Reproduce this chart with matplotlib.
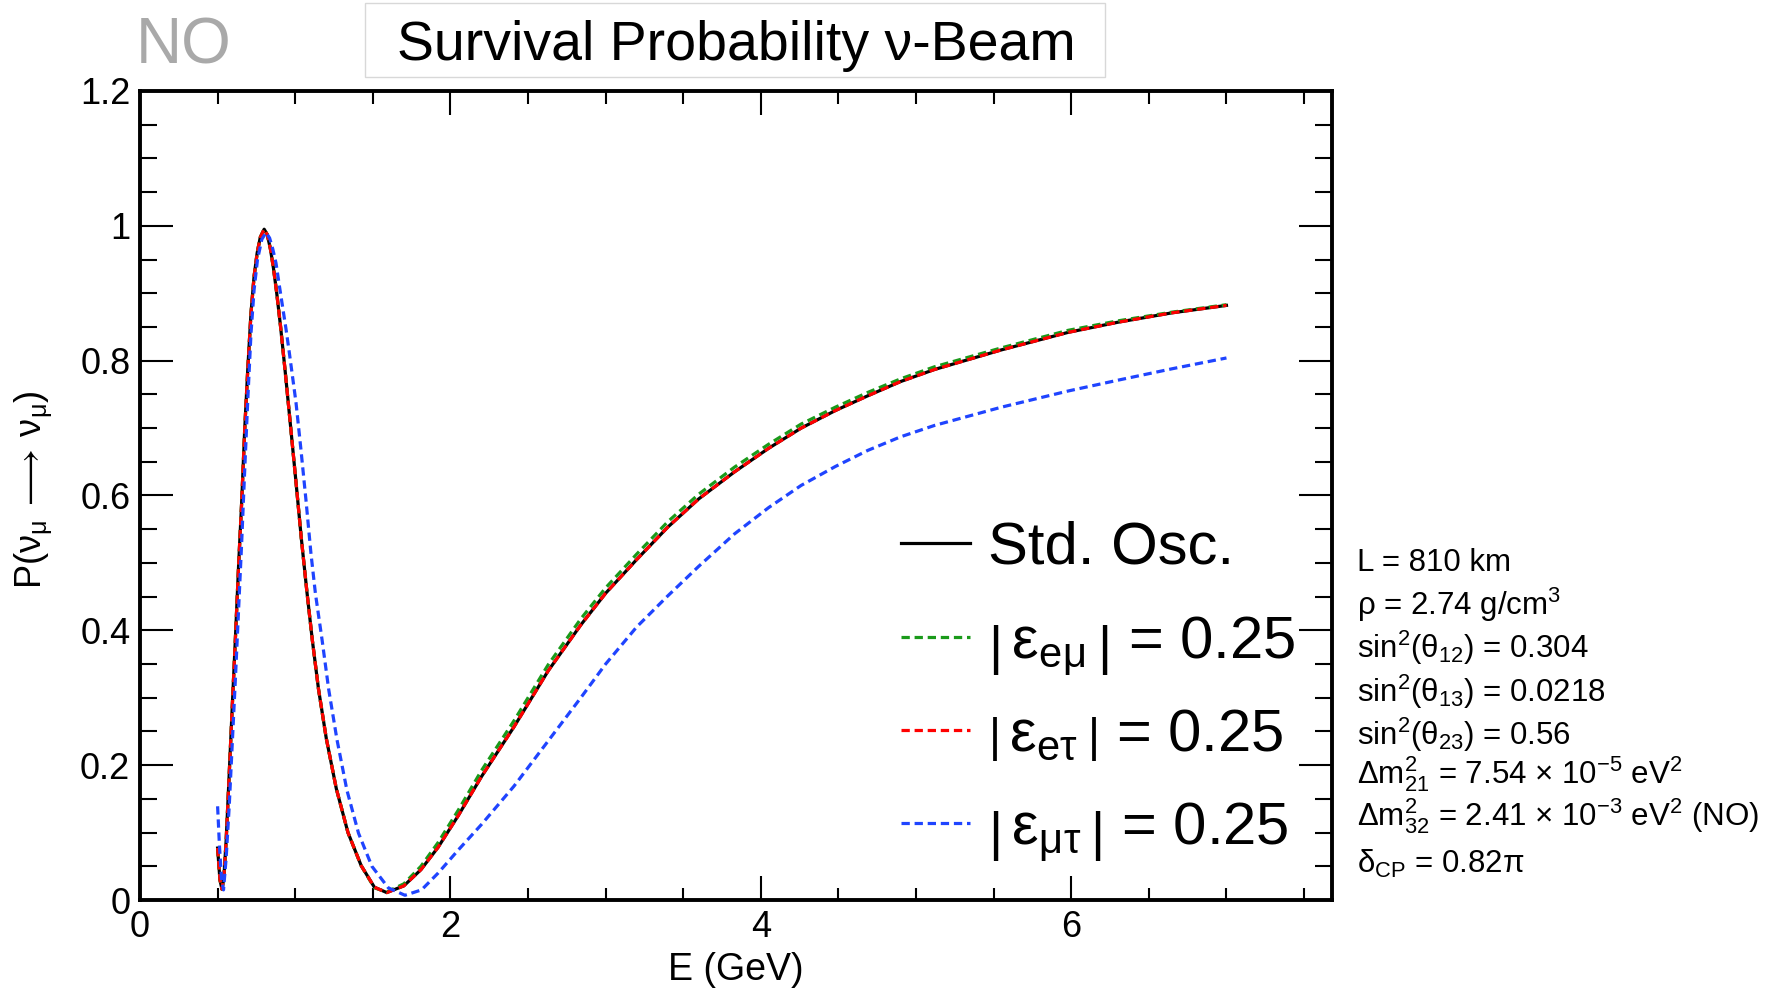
import matplotlib
matplotlib.use('Agg')
import matplotlib.pyplot as plt
from matplotlib.lines import Line2D
from matplotlib.patches import Rectangle
from matplotlib.ticker import MultipleLocator, FuncFormatter

plt.rcParams['font.family'] = ['Liberation Sans', 'DejaVu Sans']
plt.rcParams['mathtext.fontset'] = 'custom'
plt.rcParams['mathtext.rm'] = 'Liberation Sans'
plt.rcParams['mathtext.default'] = 'regular'

# energies (GeV) for the std. osc. / e-mu / e-tau curves
E_std = [0.500, 0.515, 0.528, 0.540, 0.555, 0.575, 0.595, 0.615, 0.635, 0.655,
         0.675, 0.695, 0.715, 0.735, 0.755, 0.775, 0.800, 0.820, 0.840, 0.860,
         0.880, 0.905, 0.935, 0.970, 1.005, 1.040, 1.075, 1.110, 1.150, 1.200,
         1.265, 1.340, 1.425, 1.510, 1.590, 1.700, 1.810, 1.920, 2.050, 2.200,
         2.410, 2.630, 2.840, 3.000, 3.200, 3.400, 3.600, 3.830, 4.050, 4.260,
         4.480, 4.690, 4.900, 5.120, 5.550, 5.980, 6.300, 6.650, 7.000]

P_std = [0.077, 0.030, 0.016, 0.032, 0.088, 0.188, 0.290, 0.390, 0.495, 0.590,
         0.700, 0.790, 0.870, 0.925, 0.960, 0.983, 0.995, 0.987, 0.966, 0.937,
         0.902, 0.852, 0.785, 0.703, 0.620, 0.535, 0.458, 0.386, 0.313, 0.240,
         0.165, 0.100, 0.051, 0.019, 0.011, 0.021, 0.045, 0.078, 0.125, 0.183,
         0.257, 0.340, 0.408, 0.455, 0.505, 0.553, 0.595, 0.635, 0.670, 0.700,
         0.726, 0.748, 0.769, 0.787, 0.816, 0.842, 0.857, 0.871, 0.882]

P_em = [0.077, 0.030, 0.016, 0.032, 0.088, 0.188, 0.290, 0.390, 0.495, 0.590,
        0.700, 0.790, 0.870, 0.925, 0.960, 0.983, 0.995, 0.987, 0.966, 0.937,
        0.902, 0.852, 0.785, 0.703, 0.620, 0.535, 0.458, 0.386, 0.313, 0.240,
        0.165, 0.100, 0.051, 0.018, 0.012, 0.024, 0.050, 0.085, 0.133, 0.192,
        0.266, 0.349, 0.417, 0.463, 0.513, 0.561, 0.602, 0.642, 0.676, 0.706,
        0.731, 0.753, 0.773, 0.791, 0.819, 0.845, 0.859, 0.872, 0.883]

P_et = [0.077, 0.030, 0.016, 0.032, 0.088, 0.188, 0.290, 0.390, 0.495, 0.590,
        0.700, 0.790, 0.870, 0.925, 0.960, 0.983, 0.995, 0.987, 0.966, 0.937,
        0.902, 0.852, 0.785, 0.703, 0.620, 0.535, 0.458, 0.386, 0.313, 0.240,
        0.165, 0.100, 0.051, 0.019, 0.011, 0.021, 0.045, 0.078, 0.125, 0.183,
        0.257, 0.340, 0.408, 0.455, 0.505, 0.553, 0.595, 0.635, 0.670, 0.700,
        0.726, 0.748, 0.769, 0.787, 0.816, 0.842, 0.857, 0.871, 0.882]

# mu-tau curve
E_mt = [0.500, 0.512, 0.525, 0.538, 0.555, 0.575, 0.595, 0.615, 0.635, 0.655,
        0.675, 0.695, 0.715, 0.735, 0.757, 0.785, 0.812, 0.835, 0.855, 0.876,
        0.900, 0.918, 0.940, 0.962, 1.005, 1.037, 1.069, 1.101, 1.130, 1.173,
        1.216, 1.269, 1.333, 1.408, 1.494, 1.600, 1.707, 1.814, 1.921, 2.050,
        2.200, 2.410, 2.630, 2.840, 3.000, 3.200, 3.400, 3.600, 3.830, 4.050,
        4.260, 4.480, 4.690, 4.900, 5.120, 5.550, 5.980, 6.300, 6.650, 7.000]

P_mt = [0.139, 0.080, 0.032, 0.015, 0.062, 0.140, 0.235, 0.330, 0.430, 0.530,
        0.640, 0.745, 0.840, 0.905, 0.950, 0.980, 0.990, 0.982, 0.966, 0.945,
        0.908, 0.881, 0.848, 0.812, 0.738, 0.668, 0.594, 0.515, 0.455, 0.386,
        0.312, 0.238, 0.163, 0.099, 0.050, 0.018, 0.007, 0.015, 0.040, 0.074,
        0.112, 0.169, 0.236, 0.300, 0.350, 0.405, 0.451, 0.495, 0.543, 0.582,
        0.615, 0.643, 0.667, 0.687, 0.704, 0.731, 0.755, 0.771, 0.788, 0.804]

legend_labels = ['Std. Osc.',
                 r'$\left|\,ε_{eμ}\,\right|$ = 0.25',
                 r'$\left|\,ε_{eτ}\,\right|$ = 0.25',
                 r'$\left|\,ε_{μτ}\,\right|$ = 0.25']

param_lines = ['L = 810 km',
               'ρ = 2.74 g/cm$^3$',
               'sin$^2$(θ$_{12}$) = 0.304',
               'sin$^2$(θ$_{13}$) = 0.0218',
               'sin$^2$(θ$_{23}$) = 0.56',
               'Δm$^2_{21}$ = 7.54 × 10$^{-5}$ eV$^2$',
               'Δm$^2_{32}$ = 2.41 × 10$^{-3}$ eV$^2$ (NO)',
               'δ$_{CP}$ = 0.82π']

W, H = 1789, 993
fig = plt.figure(figsize=(W / 100, H / 100), dpi=100)


def fx(px):
    return px / W


def fy(py):
    return 1 - py / H


ax = fig.add_axes([fx(140), fy(900), fx(1332) - fx(140), fy(91) - fy(900)])

green, red, blue = '#1a9a1a', '#ff0000', '#1f44ff'
dash = (2.6, 1.5)
ax.plot(E_std, P_std, color='black', lw=2.3)
ax.plot(E_std, P_em, color=green, lw=2.3, dashes=dash)
ax.plot(E_std, P_et, color=red, lw=2.3, dashes=dash)
ax.plot(E_mt, P_mt, color=blue, lw=2.3, dashes=dash)

ax.set_xlim(0, 7.68)
ax.set_ylim(0, 1.2)
ax.xaxis.set_major_locator(MultipleLocator(2))
ax.xaxis.set_minor_locator(MultipleLocator(0.5))
ax.yaxis.set_major_locator(MultipleLocator(0.2))
ax.yaxis.set_minor_locator(MultipleLocator(0.05))
fmt = FuncFormatter(lambda v, p: f'{v:g}')
ax.xaxis.set_major_formatter(fmt)
ax.yaxis.set_major_formatter(fmt)
ax.tick_params(which='both', direction='in', top=True, right=True, width=1.5, labelsize=26)
ax.tick_params(axis='x', which='major', length=17, pad=7)
ax.tick_params(axis='x', which='minor', length=9)
ax.tick_params(axis='y', which='major', length=24, pad=7)
ax.tick_params(axis='y', which='minor', length=12)
for s in ax.spines.values():
    s.set_linewidth(2.8)

ax.set_xlabel('E (GeV)', fontsize=27)
ax.xaxis.set_label_coords(0.5, -0.064)
fig.text(fx(34), fy(490), r'P($ν_{μ}\,\longrightarrow\,ν_{μ}$)', fontsize=26,
         rotation=90, ha='center', va='center')

# title box and ordering tag
fig.add_artist(Rectangle((fx(365), fy(77)), fx(1105) - fx(365), fy(3) - fy(77),
                         transform=fig.transFigure, fill=False, ec='#d8d8d8', lw=1.0))
fig.text(fx(736), fy(60), 'Survival Probability ν-Beam', fontsize=40,
         ha='center', va='baseline')
fig.text(fx(136), fy(63), 'NO', fontsize=46, color='#a9a9a9', ha='left', va='baseline')

# legend
leg_rows = [543, 637, 730, 823]
leg_styles = [dict(color='black'), dict(color=green, dashes=dash),
              dict(color=red, dashes=dash), dict(color=blue, dashes=dash)]
for row, lab, st in zip(leg_rows, legend_labels, leg_styles):
    fig.add_artist(Line2D([fx(901), fx(970)], [fy(row), fy(row)],
                          transform=fig.transFigure, lw=2.3, **st))
    fig.text(fx(988), fy(row + 21), lab, fontsize=43, ha='left', va='baseline')

# oscillation parameters
param_base = [571, 615, 658, 702, 745, 783, 826, 873]
for yb, txt in zip(param_base, param_lines):
    fig.text(fx(1357), fy(yb), txt, fontsize=22.5, ha='left', va='baseline')

fig.savefig('out.png', dpi=100)
